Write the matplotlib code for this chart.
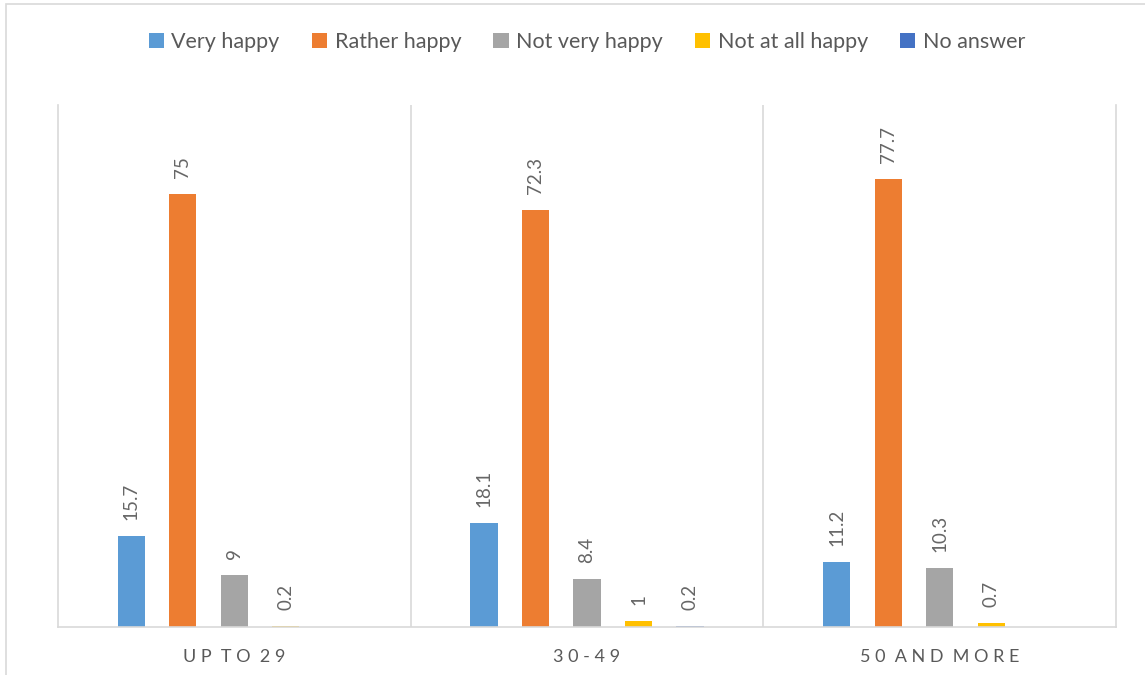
import numpy as np
import matplotlib.pyplot as plt
from matplotlib.patches import Rectangle

# Data
groups = ["U P  T O  2 9", "3 0 - 4 9", "5 0  A N D  M O R E"]
series = ["Very happy", "Rather happy", "Not very happy", "Not at all happy", "No answer"]
very_happy = [15.7, 18.1, 11.2]
rather_happy = [75, 72.3, 77.7]
not_very_happy = [9, 8.4, 10.3]
not_at_all_happy = [0.2, 1, 0.7]
no_answer = [np.nan, 0.2, np.nan]
colors = ["#5B9BD5", "#ED7D31", "#A5A5A5", "#FFC000", "#4472C4"]

values = [very_happy, rather_happy, not_very_happy, not_at_all_happy, no_answer]

plt.rcParams['font.family'] = ['Lato', 'DejaVu Sans']

fig = plt.figure(figsize=(11.45, 6.75), dpi=100)
ax = fig.add_axes([58 / 1145, 48 / 675, 1058 / 1145, 522 / 675])

# outer chart border
fig.add_artist(Rectangle((6 / 1145, -0.1), 1.2, 1.1 - 4 / 675,
                         transform=fig.transFigure, fill=False,
                         edgecolor="#D9D9D9", linewidth=1.2))

width = 0.077
step = 0.146
centers = np.arange(3) + 0.5
for i, (name, vals) in enumerate(zip(series, values)):
    xs = centers + (i - 2) * step
    ax.bar(xs, np.nan_to_num(vals), width=width, color=colors[i], label=name)
    for x, v in zip(xs, vals):
        if np.isnan(v):
            continue
        ax.annotate(f"{v:g}", (x, v), xytext=(0, 11.5), textcoords="offset points",
                    rotation=90, ha="center", va="bottom", fontsize=13.5, color="#666666")

ax.set_xlim(0, 3)
ax.set_ylim(0, 90.5)
ax.set_xticks(centers)
ax.set_xticklabels(groups, fontsize=13, color="#595959")
ax.tick_params(axis="x", length=0, pad=16)
ax.set_yticks([])
ax.spines["top"].set_visible(False)
for s in ["left", "right", "bottom"]:
    ax.spines[s].set_color("#D9D9D9")
    ax.spines[s].set_linewidth(1.2)
for x in [1, 2]:
    ax.axvline(x, color="#D9D9D9", linewidth=1.2)

fig.legend(loc="center", bbox_to_anchor=(587 / 1145, 1 - 42 / 675), ncol=5,
           frameon=False, fontsize=15.5, handlelength=0.7, handleheight=0.7,
           handletextpad=0.35, columnspacing=1.5, labelcolor="#595959")

fig.savefig("out.png", dpi=100)
